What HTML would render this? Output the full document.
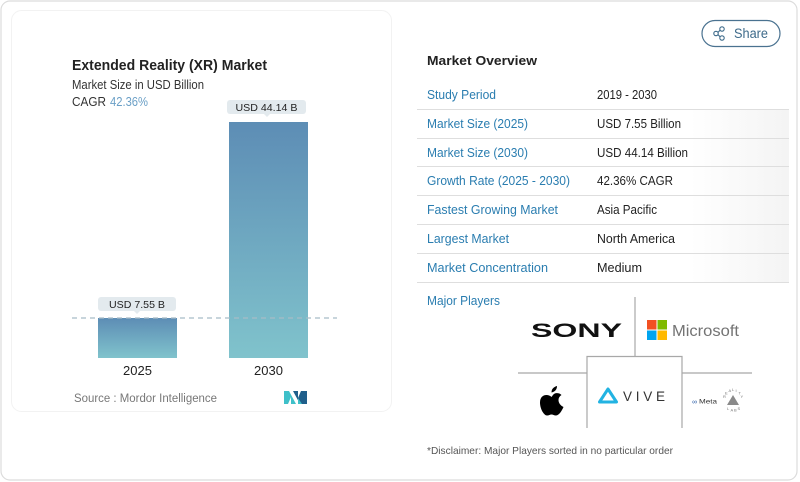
<!DOCTYPE html>
<html><head><meta charset="utf-8">
<style>
html,body{margin:0;padding:0;background:#fff;}
svg{display:block;}
text{font-family:"Liberation Sans",sans-serif;}
</style></head>
<body>
<svg width="800" height="482" viewBox="0 0 800 482" xmlns="http://www.w3.org/2000/svg">
<defs>
<linearGradient id="bar" x1="0" y1="0" x2="0" y2="1">
<stop offset="0" stop-color="#5d8db5"/>
<stop offset="1" stop-color="#80c3cc"/>
</linearGradient>
<linearGradient id="fade" x1="0" y1="0" x2="1" y2="0">
<stop offset="0" stop-color="#f1f1f1" stop-opacity="0"/>
<stop offset="1" stop-color="#f1f1f1" stop-opacity="0.8"/>
</linearGradient>
</defs>
<rect x="0" y="0" width="800" height="482" fill="#fff"/>
<rect x="1" y="1" width="796" height="479" rx="9" fill="#fff" stroke="#dcdcdc" stroke-width="1.2"/>
<rect x="690" y="110" width="99" height="172" fill="url(#fade)"/>
<rect x="11.5" y="10.5" width="380" height="401" rx="10" fill="#fff" stroke="#f2f2f2" stroke-width="1"/>

<text x="72" y="70" font-size="15" font-weight="bold" fill="#222" textLength="195" lengthAdjust="spacingAndGlyphs">Extended Reality (XR) Market</text>
<text x="72" y="89" font-size="12.5" fill="#333" textLength="132" lengthAdjust="spacingAndGlyphs">Market Size in USD Billion</text>
<text x="72" y="106" font-size="12.5" fill="#333" textLength="34" lengthAdjust="spacingAndGlyphs">CAGR</text>
<text x="110" y="106" font-size="12.5" fill="#6a9fc6" textLength="38" lengthAdjust="spacingAndGlyphs">42.36%</text>

<rect x="98" y="318" width="79" height="40" fill="url(#bar)"/>
<rect x="229" y="122" width="79" height="236" fill="url(#bar)"/>
<line x1="72" y1="318" x2="337" y2="318" stroke="#a8bcc6" stroke-width="1.3" stroke-dasharray="5 4"/>

<rect x="227" y="100" width="79" height="14" rx="3" fill="#e3eaee"/>
<polygon points="264,114 270,114 267,117" fill="#e3eaee"/>
<text x="266.5" y="111" font-size="10.5" fill="#222" text-anchor="middle" textLength="62" lengthAdjust="spacingAndGlyphs">USD 44.14 B</text>
<rect x="98" y="297" width="78" height="14" rx="3" fill="#e3eaee"/>
<polygon points="134,311 140,311 137,314" fill="#e3eaee"/>
<text x="137" y="308" font-size="10.5" fill="#222" text-anchor="middle" textLength="56" lengthAdjust="spacingAndGlyphs">USD 7.55 B</text>

<text x="137.5" y="375" font-size="13" fill="#222" text-anchor="middle">2025</text>
<text x="268.5" y="375" font-size="13" fill="#222" text-anchor="middle">2030</text>

<text x="74" y="402" font-size="11.5" fill="#777" textLength="143" lengthAdjust="spacingAndGlyphs">Source :  Mordor Intelligence</text>
<polygon points="284,391 289,391 296,404 291,404 291,397 288,404 284,404" fill="#3fc0c9"/>
<polygon points="293,391 298,391 298,398 301,391 307,391 307,404 302,404 300,404 293,391" fill="#1f5f8b"/>
<polygon points="298,398 302,404 298,404" fill="#3fc0c9"/>

<rect x="702" y="20.5" width="78" height="26" rx="13" fill="#fff" stroke="#4a7290" stroke-width="1.2"/>
<circle cx="722" cy="29" r="2.2" fill="none" stroke="#3d6a8a" stroke-width="1.1"/>
<circle cx="716" cy="33.5" r="2.2" fill="none" stroke="#3d6a8a" stroke-width="1.1"/>
<circle cx="722" cy="38" r="2.2" fill="none" stroke="#3d6a8a" stroke-width="1.1"/>
<line x1="718" y1="32.4" x2="720" y2="30.2" stroke="#3d6a8a" stroke-width="1.1"/>
<line x1="718" y1="34.6" x2="720" y2="36.8" stroke="#3d6a8a" stroke-width="1.1"/>
<text x="734" y="38" font-size="13.5" fill="#3d6a8a" textLength="34" lengthAdjust="spacingAndGlyphs">Share</text>

<text x="427" y="65" font-size="13" font-weight="bold" fill="#222" textLength="110" lengthAdjust="spacingAndGlyphs">Market Overview</text>
<g font-size="12.5" fill="#2a7db0">
<text x="427" y="99" textLength="69" lengthAdjust="spacingAndGlyphs">Study Period</text>
<text x="427" y="128" textLength="101" lengthAdjust="spacingAndGlyphs">Market Size (2025)</text>
<text x="427" y="157" textLength="101" lengthAdjust="spacingAndGlyphs">Market Size (2030)</text>
<text x="427" y="185" textLength="143" lengthAdjust="spacingAndGlyphs">Growth Rate (2025 - 2030)</text>
<text x="427" y="214" textLength="131" lengthAdjust="spacingAndGlyphs">Fastest Growing Market</text>
<text x="427" y="243" textLength="82" lengthAdjust="spacingAndGlyphs">Largest Market</text>
<text x="427" y="272" textLength="121" lengthAdjust="spacingAndGlyphs">Market Concentration</text>
<text x="427" y="305" textLength="73" lengthAdjust="spacingAndGlyphs">Major Players</text>
</g>
<g font-size="12.5" fill="#222">
<text x="597" y="99" textLength="60" lengthAdjust="spacingAndGlyphs">2019 - 2030</text>
<text x="597" y="128" textLength="84" lengthAdjust="spacingAndGlyphs">USD 7.55 Billion</text>
<text x="597" y="157" textLength="91" lengthAdjust="spacingAndGlyphs">USD 44.14 Billion</text>
<text x="597" y="185" textLength="76" lengthAdjust="spacingAndGlyphs">42.36% CAGR</text>
<text x="597" y="214" textLength="60" lengthAdjust="spacingAndGlyphs">Asia Pacific</text>
<text x="597" y="243" textLength="78" lengthAdjust="spacingAndGlyphs">North America</text>
<text x="597" y="272" textLength="45" lengthAdjust="spacingAndGlyphs">Medium</text>
</g>
<g stroke="#dedede" stroke-width="1">
<line x1="417" y1="109.5" x2="789" y2="109.5"/>
<line x1="417" y1="138.5" x2="789" y2="138.5"/>
<line x1="417" y1="166.5" x2="789" y2="166.5"/>
<line x1="417" y1="195.5" x2="789" y2="195.5"/>
<line x1="417" y1="224.5" x2="789" y2="224.5"/>
<line x1="417" y1="253.5" x2="789" y2="253.5"/>
<line x1="417" y1="282.5" x2="789" y2="282.5"/>
</g>

<g stroke="#a8a8a8" stroke-width="1.2" fill="none">
<line x1="635" y1="297" x2="635" y2="356"/>
<line x1="518" y1="373" x2="587" y2="373"/>
<line x1="682" y1="373" x2="752" y2="373"/>
<polyline points="587,428 587,356.5 682,356.5 682,428"/>
</g>
<text x="531" y="337" font-family="Liberation Serif,serif" font-size="19" font-weight="bold" fill="#111" textLength="91" lengthAdjust="spacingAndGlyphs">SONY</text>
<rect x="647" y="320" width="9.5" height="9.5" fill="#f25022"/>
<rect x="657.5" y="320" width="9.5" height="9.5" fill="#7fba00"/>
<rect x="647" y="330.5" width="9.5" height="9.5" fill="#00a4ef"/>
<rect x="657.5" y="330.5" width="9.5" height="9.5" fill="#ffb900"/>
<text x="672" y="336" font-size="16" fill="#737373" textLength="67" lengthAdjust="spacingAndGlyphs">Microsoft</text>
<path d="M551.5,397 C548,393.5 540,394 540,402.5 C540,409 544,415.5 547,415.5 C549,415.5 550,414.5 551.5,414.5 C553,414.5 554,415.5 556,415.5 C559,415.5 562,410.5 563.5,407 C560.5,405.5 558.5,403 558.5,400 C558.5,398 559.5,396.2 561.5,395 C559.5,393 557.5,393 555.5,393.3 C553.5,393.6 552.5,396 551.5,397 Z" fill="#000"/>
<path d="M551.5,392.5 C551.5,389 553.5,387 557,386 C557,389.5 555,391.8 551.5,392.5 Z" fill="#000"/>
<path d="M608,389 L616.5,402 L599.5,402 Z" fill="none" stroke="#22b3e2" stroke-width="3" stroke-linejoin="round"/>
<text x="623" y="401" font-size="13.5" fill="#333" textLength="45" lengthAdjust="spacing" letter-spacing="3">VIVE</text>
<text x="692" y="404" font-size="7" fill="#2d5fa8">∞</text>
<text x="699" y="403.5" font-size="6.5" fill="#333" textLength="18" lengthAdjust="spacingAndGlyphs">Meta</text>
<polygon points="733,395 739,405 727,405" fill="#8a8a8a"/>
<g font-size="4" fill="#777">
<text x="723" y="398">R</text><text x="725" y="394.5">E</text><text x="728.5" y="392">A</text><text x="732" y="391">L</text><text x="735.5" y="392">I</text><text x="738.5" y="394.5">T</text><text x="740.5" y="398">Y</text>
<text x="727" y="410">L</text><text x="730.5" y="411.5">A</text><text x="734" y="411.5">B</text><text x="737.5" y="410">S</text>
</g>

<text x="427" y="454" font-size="10.5" fill="#555" textLength="246" lengthAdjust="spacingAndGlyphs">*Disclaimer: Major Players sorted in no particular order</text>
</svg>
</body></html>
